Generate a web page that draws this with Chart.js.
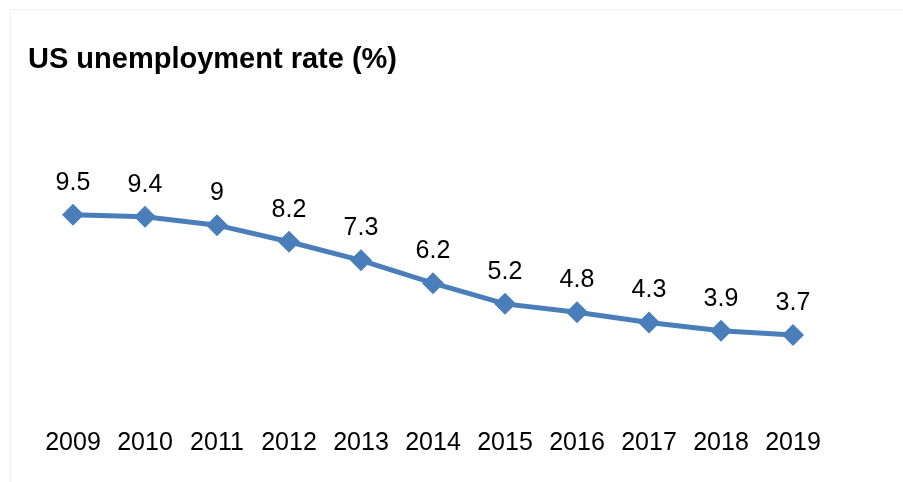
<!DOCTYPE html>
<html>
<head>
<meta charset="utf-8">
<script src="https://cdn.jsdelivr.net/npm/chart.js@4/dist/chart.umd.min.js"></script>
<style>
  html, body { margin:0; padding:0; background:#fff; }
  .frame { position:absolute; left:10px; top:9px; width:893px; height:473px;
           border-top:1px solid #efefef; border-left:1px solid #efefef; box-sizing:border-box; }
  .wrap { position:absolute; left:0; top:0; width:903px; height:482px; }
</style>
</head>
<body>
<div class="frame"></div>
<div class="wrap"><canvas id="chart" width="903" height="482"></canvas></div>
<script>
  const years = ['2009','2010','2011','2012','2013','2014','2015','2016','2017','2018','2019'];
  const rates = [9.5, 9.4, 9, 8.2, 7.3, 6.2, 5.2, 4.8, 4.3, 3.9, 3.7];
  const chartTitle = 'US unemployment rate (%)';

  const FONT = '"Liberation Sans", Arial, sans-serif';
  const BLUE = '#4a7ebb';

  // title + value labels drawn on the canvas
  const labelsPlugin = {
    id: 'labels',
    afterDatasetsDraw(chart) {
      const ctx = chart.ctx;
      ctx.save();
      ctx.fillStyle = '#000';
      ctx.font = 'bold 29px ' + FONT;
      ctx.textAlign = 'left';
      ctx.textBaseline = 'middle';
      ctx.fillText(chartTitle, 28, 60);

      ctx.font = '25px ' + FONT;
      ctx.textAlign = 'center';
      chart.getDatasetMeta(0).data.forEach((pt, i) => {
        ctx.fillText(String(rates[i]), pt.x, pt.y - 32);
      });
      ctx.restore();
    }
  };

  new Chart(document.getElementById('chart'), {
    type: 'line',
    data: {
      labels: years,
      datasets: [{
        data: rates,
        borderColor: BLUE,
        backgroundColor: BLUE,
        borderWidth: 5,
        pointStyle: 'rectRot',
        pointRadius: 11,
        pointHoverRadius: 11,
        pointBorderWidth: 0,
        tension: 0
      }]
    },
    options: {
      responsive: false,
      animation: false,
      layout: { padding: { left: 37, right: 74, top: 163, bottom: 0 } },
      plugins: { legend: { display: false }, tooltip: { enabled: false }, title: { display: false } },
      scales: {
        x: {
          offset: true,
          grid: { display: false, drawTicks: false },
          border: { display: false },
          ticks: { color: '#000', font: { size: 25, family: FONT }, padding: 17, maxRotation: 0, autoSkip: false },
          afterFit(axis) { axis.height = 70.4; }
        },
        y: {
          display: false,
          min: 0,
          max: 12
        }
      }
    },
    plugins: [labelsPlugin]
  });
</script>
</body>
</html>
